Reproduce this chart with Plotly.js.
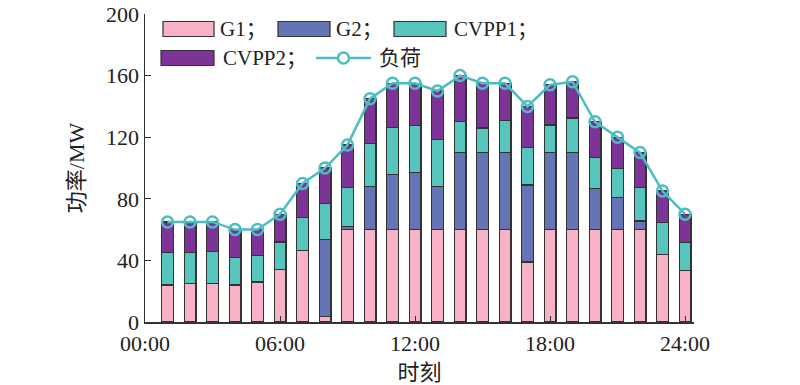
<!DOCTYPE html>
<html>
<head>
<meta charset="utf-8">
<script src="https://cdn.plot.ly/plotly-3.0.1.min.js"></script>
<style>html,body{margin:0;padding:0;background:#fff;}#chart{width:800px;height:385px;}</style>
</head>
<body>
<div id="chart"></div>
<script>
const hours = [1,2,3,4,5,6,7,8,9,10,11,12,13,14,15,16,17,18,19,20,21,22,23,24];
const g1 = [24,25,25,24,26,34,46.5,3.5,60,60,60,60,60,60,60,60,39,60,60,60,60,60,44,33.5];
const g2 = [0,0,0,0,0,0,0,50,2,28,36,37,28,50,50,50,50,50,50,26.5,21,5.5,0,0];
const cvpp1 = [21,20,21,18,17,18,21.5,23.5,25.5,28,30.5,30.5,30.5,20,16,21,24.5,18,22.5,20.5,18.5,22,20.5,18];
const cvpp2 = [20,20,19,18,17,18,22,23,27.5,29,28.5,27.5,31.5,30,29,24,26.5,26,23.5,23,20.5,22.5,20.5,18.5];
const load = [65,65,65,60,60,70,90,100,115,145,155,155,150,160,155,155,140,154,156,130,120,110,85,70];
const tickVals = [0,6,12,18,24];
const tickText = ['00:00','06:00','12:00','18:00','24:00'];
const names = ['G1；','G2；','CVPP1；','CVPP2；','负荷'];
const colors = ['#F7B3C5','#6474B5','#56C5BB','#7E3399'];
const lineColor = '#4DBDC1';

const fontFam = '"Liberation Serif","Times New Roman","Noto Sans CJK SC",serif';
const edge = {color:'#333333', width:1.3};
function bar(y, name, color){
  return {type:'bar', x:hours, y:y, name:name, width:0.52, showlegend:false,
    marker:{color:color, line:edge}};
}
const traces = [
  bar(g1, names[0], colors[0]),
  bar(g2, names[1], colors[1]),
  bar(cvpp1, names[2], colors[2]),
  bar(cvpp2, names[3], colors[3]),
  {type:'scatter', mode:'lines+markers', x:hours, y:load, name:names[4], showlegend:false,
    line:{color:lineColor, width:2.5},
    marker:{symbol:'circle-open', size:11, color:lineColor, line:{width:2.5, color:lineColor}}}
];

// Legend drawn in paper coordinates (plot area: x 145..694 px, y 14..322 px)
const L = 145, W = 549, B = 322, H = 308;
const px = v => (v - L) / W;
const py = v => (B - v) / H;
const legendItems = [
  {kind:'rect', x0:163, x1:214, yc:29, tx:218, i:0},
  {kind:'rect', x0:278, x1:330, yc:29, tx:334, i:1},
  {kind:'rect', x0:394, x1:446, yc:29, tx:452, i:2},
  {kind:'rect', x0:161, x1:214, yc:58, tx:221, i:3},
  {kind:'line', x0:316, x1:371, yc:58, tx:377, i:4}
];
const shapes = [];
const annotations = [];
legendItems.forEach(it => {
  if (it.kind === 'rect') {
    shapes.push({type:'rect', xref:'paper', yref:'paper', x0:px(it.x0), x1:px(it.x1),
      y0:py(it.yc + 7.5), y1:py(it.yc - 7.5), fillcolor:colors[it.i], line:{color:'#333', width:1.2}});
  } else {
    shapes.push({type:'line', xref:'paper', yref:'paper', x0:px(it.x0), x1:px(it.x1),
      y0:py(it.yc), y1:py(it.yc), line:{color:lineColor, width:2.5}});
    const cx = (it.x0 + it.x1) / 2;
    shapes.push({type:'circle', xref:'paper', yref:'paper', x0:px(cx - 5.5), x1:px(cx + 5.5),
      y0:py(it.yc + 5.5), y1:py(it.yc - 5.5), fillcolor:'#fff', line:{color:lineColor, width:2.5}});
  }
  annotations.push({xref:'paper', yref:'paper', x:px(it.tx), y:py(it.yc), xanchor:'left', yanchor:'middle',
    text:names[it.i], showarrow:false, font:{size:21, color:'#222'}});
});

const layout = {
  width:800, height:385,
  margin:{l:L, r:800 - L - W, t:14, b:385 - B},
  paper_bgcolor:'#fff', plot_bgcolor:'#fff',
  barmode:'stack',
  font:{family:fontFam, size:20, color:'#222'},
  xaxis:{range:[0,24.4], tickvals:tickVals, ticktext:tickText, ticks:'inside', ticklen:6,
    tickcolor:'#333', showline:true, linecolor:'#333', linewidth:1.5, showgrid:false, zeroline:false,
    tickfont:{size:22}, ticklabelstandoff:1, title:{text:'时刻', font:{size:22}, standoff:9}},
  yaxis:{range:[0,200], tickvals:[0,40,80,120,160,200], ticks:'inside', ticklen:6,
    tickcolor:'#333', showline:true, linecolor:'#333', linewidth:1.5, showgrid:false, zeroline:false,
    tickfont:{size:22}, title:{text:'功率/MW', font:{size:22}, standoff:15}},
  shapes:shapes,
  annotations:annotations,
  showlegend:false
};
Plotly.newPlot('chart', traces, layout, {displayModeBar:false, staticPlot:true});
</script>
</body>
</html>
